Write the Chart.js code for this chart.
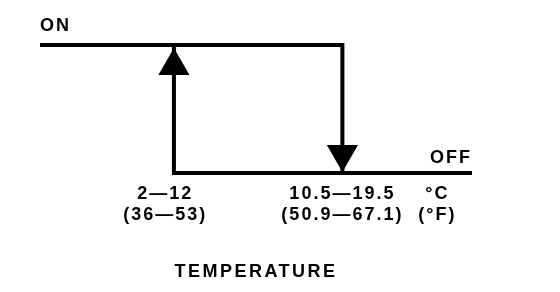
<!DOCTYPE html>
<html>
<head>
<meta charset="utf-8">
<script src="https://cdn.jsdelivr.net/npm/chart.js@4"></script>
<style>
  html, body { margin: 0; padding: 0; background: #fff; }
  #wrap { width: 560px; height: 292px; }
</style>
</head>
<body>
<div id="wrap"><canvas id="chart"></canvas></div>
<script>
'use strict';

// thermostat hysteresis: state 1 = ON, 0 = OFF, x = temperature position
const onPath = [[0, 1], [7.0, 1], [7.0, 0]];
const offPath = [[10, 0], [3.1, 0], [3.1, 1]];
const arrows = [[3.1, 0.836, 0], [7.0, 0.148, 180]];   // x, y, rotation

// temperature labels under the OFF line
const tickPos = [2.9, 7.0, 9.2];
const tickC = ['2—12', '10.5—19.5', '°C'];
const tickF = ['(36—53)', '(50.9—67.1)', '(°F)'];
const stateLabels = ['ON', 'OFF'];
const axisTitle = 'TEMPERATURE';

const FONT = 'bold 18px "Liberation Sans", Arial, sans-serif';

const toPts = arr => arr.map(p => ({x: p[0], y: p[1]}));

// draws the texts at scale positions
const textPlugin = {
  id: 'texts',
  afterDatasetsDraw(chart) {
    const ctx = chart.ctx;
    const xs = chart.scales.x, ys = chart.scales.y;
    const yOn = ys.getPixelForValue(1);
    const yOff = ys.getPixelForValue(0);
    ctx.save();
    ctx.fillStyle = '#000';
    ctx.font = FONT;
    ctx.letterSpacing = '2px';
    ctx.textBaseline = 'alphabetic';

    ctx.textAlign = 'left';
    ctx.fillText(stateLabels[0], xs.getPixelForValue(0), yOn - 14);
    ctx.textAlign = 'right';
    ctx.fillText(stateLabels[1], xs.getPixelForValue(10), yOff - 10);

    ctx.textAlign = 'center';
    for (let i = 0; i < tickPos.length; i++) {
      const px = xs.getPixelForValue(tickPos[i]);
      ctx.fillText(tickC[i], px, yOff + 26);
      ctx.fillText(tickF[i], px, yOff + 47);
    }
    ctx.letterSpacing = '2.5px';
    ctx.fillText(axisTitle, xs.getPixelForValue(5.0), yOff + 104);
    ctx.restore();
  }
};

const lineStyle = {
  showLine: true,
  borderColor: '#000',
  borderWidth: 4,
  pointRadius: 0,
  tension: 0,
  fill: false
};

new Chart(document.getElementById('chart').getContext('2d'), {
  type: 'scatter',
  data: {
    datasets: [
      Object.assign({ data: toPts(onPath) }, lineStyle),
      Object.assign({ data: toPts(offPath) }, lineStyle),
      {
        data: toPts(arrows),
        showLine: false,
        pointStyle: 'triangle',
        pointRadius: 18,
        pointHoverRadius: 18,
        rotation: arrows.map(a => a[2]),
        backgroundColor: '#000',
        borderColor: '#000',
        borderWidth: 0
      }
    ]
  },
  options: {
    responsive: true,
    maintainAspectRatio: false,
    animation: false,
    clip: false,
    layout: { padding: { left: 40, right: 88, top: 45, bottom: 119 } },
    plugins: { legend: { display: false }, tooltip: { enabled: false } },
    scales: {
      x: { type: 'linear', min: 0, max: 10, display: false },
      y: { type: 'linear', min: 0, max: 1, display: false }
    }
  },
  plugins: [textPlugin]
});
</script>
</body>
</html>
